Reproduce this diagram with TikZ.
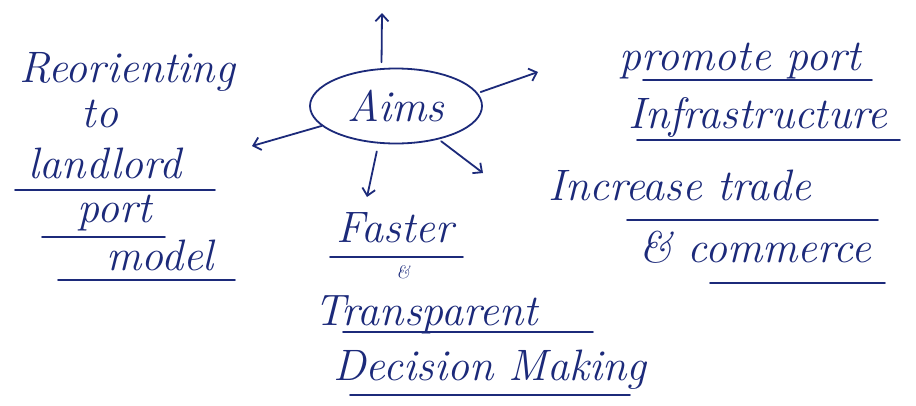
\documentclass[tikz,border=0pt]{standalone}
\usetikzlibrary{shapes.geometric,arrows.meta}
\definecolor{inkblue}{RGB}{28,42,122}
\begin{document}
\begin{tikzpicture}[x=1pt,y=-1pt,
    hand/.style={inkblue,font=\fontsize{44}{48}\selectfont\itshape,inner sep=0pt,anchor=base},
    uline/.style={inkblue,line width=1.8pt,line cap=round},
    aimarrow/.style={inkblue,line width=1.8pt,line cap=round,
        -{Straight Barb[length=7pt,width=13pt]}}]
    \useasboundingbox[fill=white] (0,0) rectangle (916,405);

    % Centre of the map
    \node[draw=inkblue,line width=1.8pt,ellipse,inner sep=0pt,
        minimum width=172pt,minimum height=75pt,
        text=inkblue,font=\fontsize{44}{48}\selectfont\itshape] (aims) at (396,106) {Aims};

    % Free ends of the arrows
    \coordinate (UpTip)        at (382,13);
    \coordinate (RightTip)     at (538,72);
    \coordinate (LeftTip)      at (252,146);
    \coordinate (DownTip)      at (367,197);
    \coordinate (DownRightTip) at (483,173);

    \draw[aimarrow,shorten <=6pt] (aims.111) -- (UpTip);
    \draw[aimarrow,shorten <=3pt] (aims.9)   -- (RightTip);
    \draw[aimarrow]               (aims.195) -- (LeftTip);
    \draw[aimarrow,shorten <=8pt] (aims.245) -- (DownTip);
    \draw[aimarrow,shorten <=3pt] (aims.322) -- (DownRightTip);

    % Left branch
    \node[hand] (reorient) at (127,82)  {Reorienting};
    \node[hand] (to)       at (100,127) {to};
    \node[hand] (landlord) at (105,178) {landlord};
    \node[hand] (port)     at (115,222) {port};
    \node[hand] (model)    at (160,270) {model};
    \draw[uline] (15,190) -- (215,190);
    \draw[uline] (42,237) -- (165,237);
    \draw[uline] (58,280) -- (235,280);

    % Right branch, top
    \node[hand] (promote)  at (740,70)  {promote port};
    \node[hand] (infra)    at (758,128) {Infrastructure};
    \draw[uline] (643,80)  -- (872,80);
    \draw[uline] (637,140) -- (900,140);

    % Right branch, bottom
    \node[hand] (increase) at (680,200) {Increase trade};
    \node[hand] (commerce) at (755,262) {\& commerce};
    \draw[uline] (627,220) -- (878,220);
    \draw[uline] (710,283) -- (885,283);

    % Bottom branch
    \node[hand] (faster)   at (395,242) {Faster};
    \node[inkblue,font=\fontsize{18}{20}\selectfont\itshape,inner sep=0pt,anchor=base]
        (amp) at (403,278) {\&};
    \node[hand] (transp)   at (426,325) {Transparent};
    \node[hand] (decision) at (490,380) {Decision Making};
    \draw[uline] (330,257) -- (463,257);
    \draw[uline] (343,332) -- (593,332);
    \draw[uline] (350,395) -- (630,395);
\end{tikzpicture}
\end{document}
